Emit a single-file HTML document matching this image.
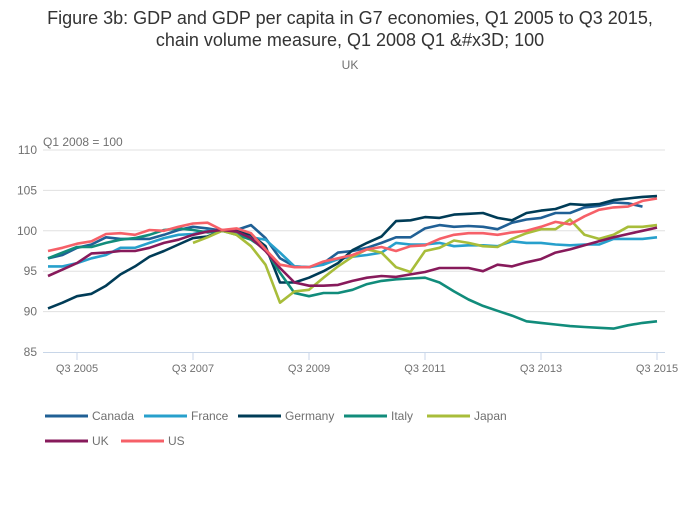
<!DOCTYPE html>
<html><head><meta charset="utf-8"><style>
body{margin:0;background:#fff;font-family:"Liberation Sans",sans-serif;}
svg text{font-family:"Liberation Sans",sans-serif;}
</style></head><body>
<svg width="700" height="502" viewBox="0 0 700 502">
<text x="350" y="24" text-anchor="middle" font-size="18" fill="#333">Figure 3b: GDP and GDP per capita in G7 economies, Q1 2005 to Q3 2015,</text>
<text x="350" y="46" text-anchor="middle" font-size="18" fill="#333">chain volume measure, Q1 2008 Q1 &amp;#x3D; 100</text>
<text x="350" y="69" text-anchor="middle" font-size="12" fill="#707070">UK</text>
<text x="43" y="146" font-size="12" fill="#707070">Q1 2008 = 100</text>
<g id="grid"></g><g id="series"></g><g id="legend"></g>
</svg>
<script>
const years=["Q3 2005","Q3 2007","Q3 2009","Q3 2011","Q3 2013","Q3 2015"];
const tickIdx=[2,10,18,26,34,42];
const yTicks=[85,90,95,100,105,110];
const names=["Canada","France","Germany","Italy","Japan","UK","US"];
const colors=["#206095","#27a0cc","#003c57","#118c7b","#a8bd3a","#871a5b","#f66068"];
const canada=[96.6,97,97.9,98.3,99.2,99,99,99,99.5,100.1,100.5,100.3,100,100.1,100.7,99.1,96.6,95.6,95.5,96,97.3,97.5,97.9,98.5,99.2,99.2,100.3,100.7,100.5,100.6,100.5,100.2,101,101.4,101.6,102.2,102.2,102.9,103.1,103.5,103.4,103];
const france=[95.6,95.6,96,96.6,97,97.9,97.9,98.5,99.1,99.5,99.6,100,100,99.7,99.2,98.9,97.3,95.6,95.5,95.8,96.5,96.8,97,97.3,98.5,98.3,98.3,98.5,98.1,98.2,98.2,98.1,98.7,98.5,98.5,98.3,98.2,98.3,98.3,99,99,99,99.2];
const germany=[90.4,91.1,91.9,92.2,93.2,94.6,95.6,96.8,97.5,98.3,99.1,99.3,100,100,99.5,98.1,93.6,93.6,94.2,95,96,97.6,98.5,99.3,101.2,101.3,101.7,101.6,102,102.1,102.2,101.6,101.3,102.2,102.5,102.7,103.3,103.2,103.3,103.8,104,104.2,104.3];
const italy=[96.6,97.3,98,98,98.5,98.9,99.1,99.5,100.1,100.3,100.1,99.8,100,99.5,98.9,97.7,94.8,92.3,91.9,92.3,92.3,92.7,93.4,93.8,94,94.1,94.2,93.6,92.5,91.5,90.7,90.1,89.5,88.8,88.6,88.4,88.2,88.1,88,87.9,88.3,88.6,88.8];
const japan=[null,null,null,null,null,null,null,null,null,null,98.5,99.2,100,99.5,98.1,95.8,91.1,92.5,92.7,94.2,95.6,96.8,97.7,97.3,95.5,94.9,97.5,97.9,98.8,98.5,98.1,98,99,99.7,100.2,100.2,101.4,99.5,99,99.5,100.5,100.5,100.7];
const uk=[94.4,95.2,96,97.2,97.3,97.5,97.5,97.9,98.5,98.9,99.5,99.9,100.1,99.9,99.1,97.5,95.4,93.6,93.2,93.2,93.3,93.8,94.2,94.4,94.3,94.6,94.9,95.4,95.4,95.4,95,95.8,95.6,96.1,96.5,97.3,97.7,98.2,98.7,99.2,99.6,100,100.4];
const us=[97.5,97.9,98.4,98.7,99.6,99.7,99.5,100.1,100,100.5,100.9,101,100.1,100.3,99.7,97.7,95.8,95.5,95.5,96.2,96.6,97,97.7,98,97.5,98.1,98.2,99,99.5,99.7,99.7,99.5,99.8,100,100.5,101.1,100.8,101.8,102.6,102.9,103,103.7,104];
const series=[canada,france,germany,italy,japan,uk,us];
const NS="http://www.w3.org/2000/svg";
function xs(i){return 48+i*14.5;}
function ys(v){return 352-(v-85)*8.08;}
const grid=document.getElementById('grid');
function mk(tag,attrs,parent){const e=document.createElementNS(NS,tag);for(const k in attrs)e.setAttribute(k,attrs[k]);parent.appendChild(e);return e;}
yTicks.forEach(v=>{
  if(v>85){const l=mk('line',{x1:43,x2:665,y1:ys(v),y2:ys(v),stroke:'#e0e0e0','stroke-width':1},grid);
  
  }
  const t=mk('text',{x:37,y:ys(v)+4,'text-anchor':'end','font-size':12,fill:'#707070'},grid);t.textContent=v;
  
  
});
const ax=mk('line',{x1:43,x2:665,y1:352.5,y2:352.5,stroke:'#c8d6e8','stroke-width':1},grid);


tickIdx.forEach((ix,k)=>{
  const tk=mk('line',{x1:xs(ix),x2:xs(ix),y1:352,y2:360,stroke:'#c8d6e8'},grid);
  
  
  const t=mk('text',{x:xs(ix),y:372,'text-anchor':'middle','font-size':11,fill:'#707070'},grid);t.textContent=years[k];
  
  
});
const sg=document.getElementById('series');
series.forEach((arr,s)=>{
  let d='';let pen=false;
  arr.forEach((v,i)=>{if(v==null){pen=false;return;}d+=(pen?'L':'M')+xs(i).toFixed(1)+' '+ys(v).toFixed(1);pen=true;});
  const p=mk('path',{d:d,fill:'none',stroke:colors[s],'stroke-width':2.6,'stroke-linejoin':'round'},sg);
  
  
});
const lg=document.getElementById('legend');
const lpos=[[45,416],[144,416],[238,416],[344,416],[427,416],[45,441],[121,441]];
names.forEach((n,s)=>{
  const g=mk('g',{},lg);
  
  
  const [x,y]=lpos[s];
  mk('line',{x1:x,x2:x+43,y1:y,y2:y,stroke:colors[s],'stroke-width':3},g);
  const t=mk('text',{x:x+47,y:y+4,'font-size':12,fill:'#707070'},g);t.textContent=n;
});
</script>
</body></html>
